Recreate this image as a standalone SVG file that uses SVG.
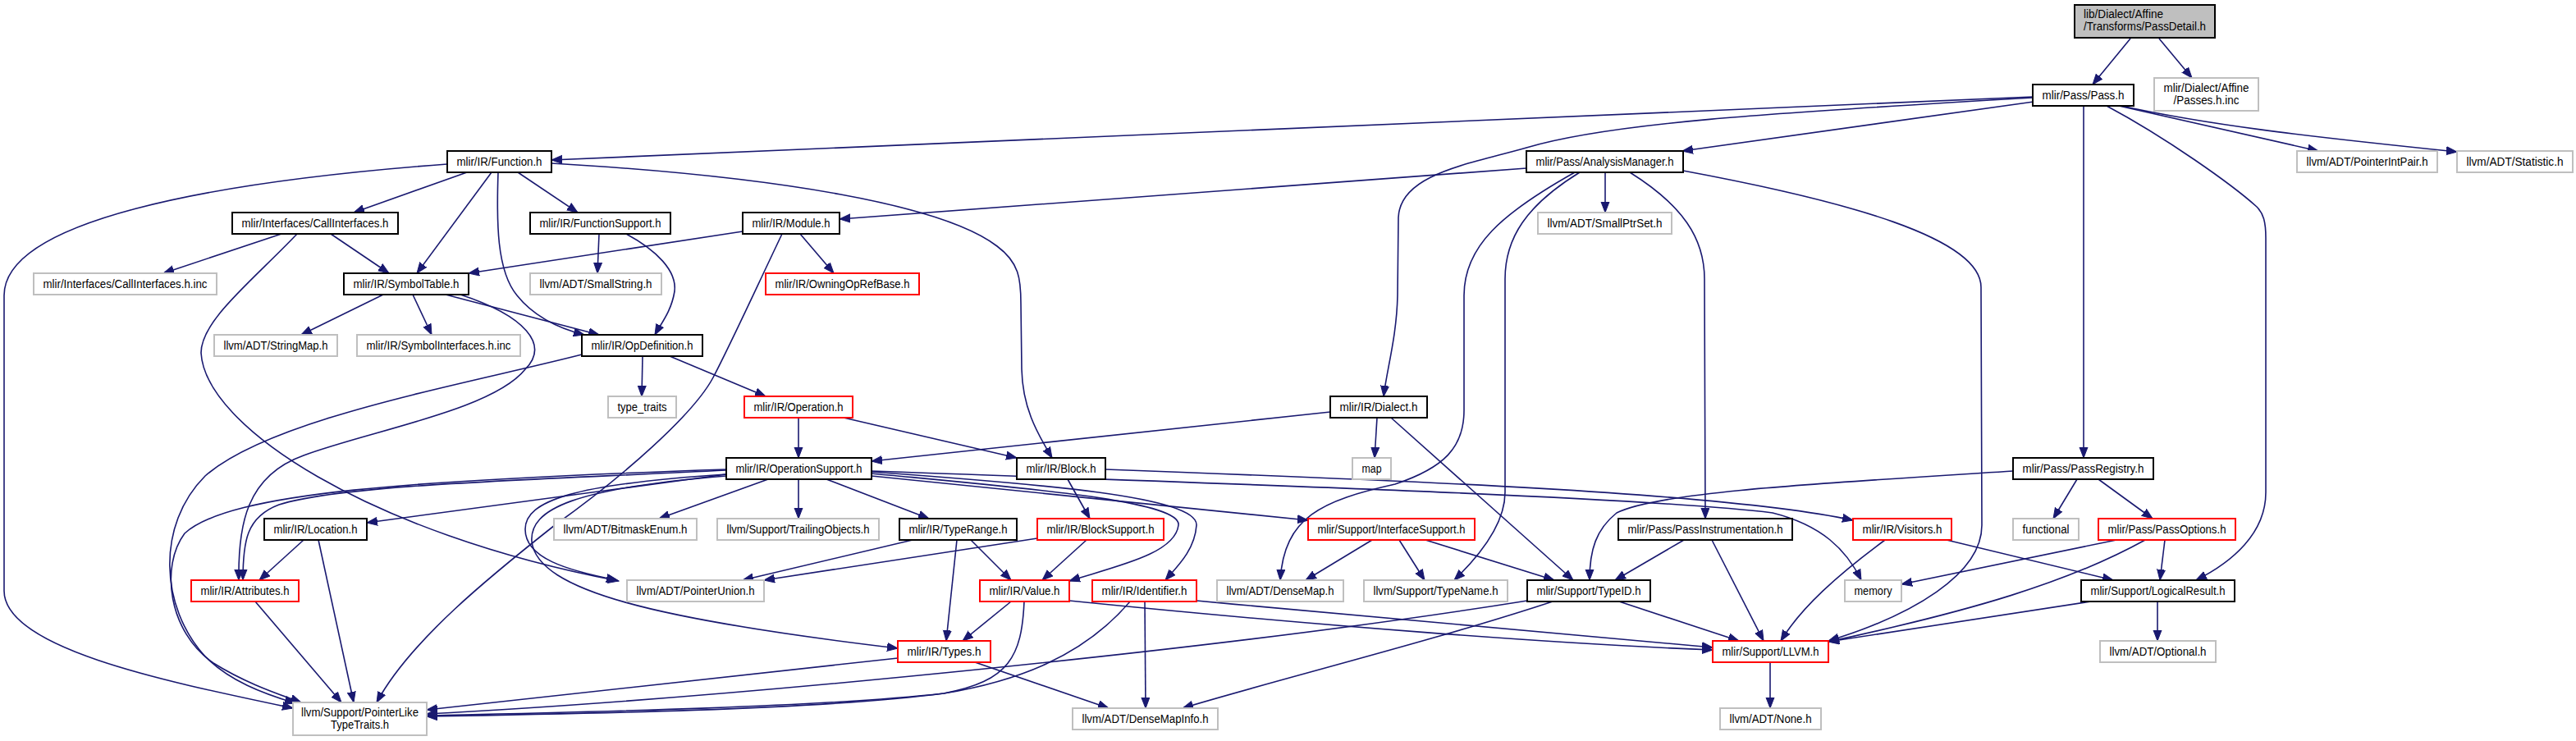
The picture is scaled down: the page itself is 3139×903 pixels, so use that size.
<svg xmlns="http://www.w3.org/2000/svg" width="3139" height="903" viewBox="0 0 3139 903">
<style>
.e{fill:none;stroke:#191970;stroke-width:1.6;marker-end:url(#ah)}
.nb rect{fill:#fff;stroke:#000;stroke-width:2}
.ng rect{fill:#fff;stroke:#bfbfbf;stroke-width:2}
.nr rect{fill:#fff;stroke:#ff0000;stroke-width:2}
.nf rect{fill:#bfbfbf;stroke:#000;stroke-width:2}
text{font-family:"Liberation Sans",Arial,Helvetica,sans-serif;font-size:14px;fill:#000;text-anchor:middle}
text.l{text-anchor:start}
</style>
<defs>
<marker id="ah" markerUnits="userSpaceOnUse" markerWidth="15" markerHeight="12" refX="13" refY="5.5" orient="auto">
<path d="M0,0.5 L13,5.5 L0,10.5 z" fill="#191970" stroke="#191970" stroke-width="1"/>
</marker>
</defs>
<rect width="3139" height="903" fill="#fff"/>
<g id="edges">
<path class="e" d="M2596,47 L2550,103"/>
<path class="e" d="M2631,47 L2671,95"/>
<path class="e" d="M2477,118 L672,195"/>
<path class="e" d="M2478,124 L2050,184"/>
<path class="e" d="M2478,119 C2150,138 1960,150 1860,180 C1790,200 1706,212 1704,265 L1703,360 C1702,410 1690,450 1686,483"/>
<path class="e" d="M2539,129 L2539,558"/>
<path class="e" d="M2567,129 C2640,168 2720,225 2750,252 C2758,260 2761,270 2761,290 L2761,600 C2761,650 2720,685 2676,707"/>
<path class="e" d="M2582,129 L2825,184"/>
<path class="e" d="M2585,129 C2690,152 2800,165 2994,185"/>
<path class="e" d="M545,200 C250,222 5,270 5,360 L5,720 C5,790 200,830 357,863"/>
<path class="e" d="M569,210 L431,259"/>
<path class="e" d="M599,210 L508,333"/>
<path class="e" d="M607,210 C605,270 605,330 630,360 C650,385 680,400 712,408"/>
<path class="e" d="M631,210 L704,259"/>
<path class="e" d="M672,199 C950,215 1150,250 1215,300 C1242,320 1244,340 1244,370 L1245,450 C1246,495 1262,525 1282,558"/>
<path class="e" d="M343,285 L199,333"/>
<path class="e" d="M403,285 L474,333"/>
<path class="e" d="M362,285 C310,340 245,390 245,430 C250,520 450,650 754,708"/>
<path class="e" d="M730,285 L728,333"/>
<path class="e" d="M763,285 C800,305 825,330 822,355 C818,380 805,395 798,408"/>
<path class="e" d="M905,282 L571,333"/>
<path class="e" d="M975,285 L1016,333"/>
<path class="e" d="M953,285 C915,365 890,420 869,460 C845,505 760,580 676,640 C600,700 500,780 459,856"/>
<path class="e" d="M467,359 L367,408"/>
<path class="e" d="M503,359 L526,408"/>
<path class="e" d="M543,359 L730,408"/>
<path class="e" d="M561,359 C640,385 670,420 640,450 C600,500 450,525 370,555 C300,580 290,640 291,707"/>
<path class="e" d="M709,432 C560,470 330,510 250,580 C190,640 195,740 250,800 C280,830 320,845 360,857"/>
<path class="e" d="M783,434 L782,483"/>
<path class="e" d="M816,434 L933,483"/>
<path class="e" d="M973,509 L973,558"/>
<path class="e" d="M1028,509 L1239,558"/>
<path class="e" d="M1621,502 L1062,562"/>
<path class="e" d="M1678,509 L1675,558"/>
<path class="e" d="M1695,509 L1917,707"/>
<path class="e" d="M1301,584 L1328,632"/>
<path class="e" d="M1347,572 C1700,585 2100,600 2258,634"/>
<path class="e" d="M1062,574 C1450,588 2000,605 2160,625 C2220,640 2250,670 2268,707"/>
<path class="e" d="M936,584 L803,632"/>
<path class="e" d="M973,584 L973,632"/>
<path class="e" d="M1007,584 L1132,632"/>
<path class="e" d="M1062,577 C1250,595 1440,610 1436,640 C1432,675 1360,690 1303,708"/>
<path class="e" d="M1062,575 C1270,590 1460,605 1458,640 C1456,670 1435,690 1420,707"/>
<path class="e" d="M1062,580 L1594,634"/>
<path class="e" d="M885,578 L447,637"/>
<path class="e" d="M885,573 C650,585 420,590 340,615 C300,630 296,660 296,707"/>
<path class="e" d="M885,572 C500,585 280,600 225,650 C195,690 205,770 260,808 C300,833 340,846 367,856"/>
<path class="e" d="M885,578 C700,590 640,610 640,645 C640,680 690,695 752,707"/>
<path class="e" d="M885,580 C700,595 645,620 648,660 C655,720 800,755 1094,790"/>
<path class="e" d="M1112,658 L905,707"/>
<path class="e" d="M1264,656 L931,707"/>
<path class="e" d="M1166,658 L1153,781"/>
<path class="e" d="M1183,658 L1232,707"/>
<path class="e" d="M1324,658 L1270,707"/>
<path class="e" d="M1232,733 L1173,781"/>
<path class="e" d="M1248,733 C1245,800 1230,830 1150,845 C1000,865 700,870 520,873"/>
<path class="e" d="M1377,733 C1320,800 1240,830 1150,845 C1000,862 700,868 520,872"/>
<path class="e" d="M1094,802 L520,865"/>
<path class="e" d="M1861,732 C1500,790 900,850 520,870"/>
<path class="e" d="M1188,807 L1351,863"/>
<path class="e" d="M1395,733 L1396,863"/>
<path class="e" d="M1892,733 C1750,780 1550,830 1441,863"/>
<path class="e" d="M1458,732 C1700,755 1950,775 2087,789"/>
<path class="e" d="M1303,732 C1600,762 1900,785 2087,792"/>
<path class="e" d="M1672,658 L1591,707"/>
<path class="e" d="M1705,658 L1736,707"/>
<path class="e" d="M1737,658 L1894,707"/>
<path class="e" d="M1925,210 C1860,250 1834,290 1834,340 L1834,600 C1834,640 1800,680 1772,707"/>
<path class="e" d="M1919,210 C1830,260 1784,300 1784,360 L1784,500 C1784,545 1760,570 1700,590 C1610,610 1565,630 1560,707"/>
<path class="e" d="M1956,210 L1956,259"/>
<path class="e" d="M1986,210 C2050,250 2077,290 2077,340 L2078,632"/>
<path class="e" d="M2051,208 C2250,245 2414,290 2414,350 L2415,640 C2415,700 2330,750 2228,781"/>
<path class="e" d="M1860,205 L1023,267"/>
<path class="e" d="M2052,658 L1968,707"/>
<path class="e" d="M2086,658 L2149,781"/>
<path class="e" d="M2297,658 C2240,700 2195,740 2170,781"/>
<path class="e" d="M2372,658 L2575,707"/>
<path class="e" d="M1973,733 L2119,781"/>
<path class="e" d="M2453,574 C2200,590 2020,600 1970,625 C1945,645 1937,670 1937,707"/>
<path class="e" d="M2531,584 L2502,632"/>
<path class="e" d="M2557,584 L2623,632"/>
<path class="e" d="M2579,658 L2317,712"/>
<path class="e" d="M2614,658 C2520,710 2400,745 2228,782"/>
<path class="e" d="M2638,658 L2632,707"/>
<path class="e" d="M2548,733 L2228,782"/>
<path class="e" d="M2629,733 L2629,781"/>
<path class="e" d="M2157,807 L2157,863"/>
<path class="e" d="M370,658 L316,707"/>
<path class="e" d="M388,658 L431,856"/>
<path class="e" d="M311,733 L416,856"/>
</g>
<g id="n0" class="nf"><rect x="2528" y="6" width="171" height="40"/><text class="l" x="2539" y="22" textLength="97" lengthAdjust="spacingAndGlyphs">lib/Dialect/Affine</text><text class="l" x="2539" y="37" textLength="149" lengthAdjust="spacingAndGlyphs">/Transforms/PassDetail.h</text></g>
<g id="n1" class="nb"><rect x="2477" y="103" width="123" height="26"/><text x="2538.5" y="121" textLength="100" lengthAdjust="spacingAndGlyphs">mlir/Pass/Pass.h</text></g>
<g id="n2" class="ng"><rect x="2625" y="95" width="127" height="40"/><text x="2688.5" y="112" textLength="104" lengthAdjust="spacingAndGlyphs">mlir/Dialect/Affine</text><text x="2688.5" y="127" textLength="80" lengthAdjust="spacingAndGlyphs">/Passes.h.inc</text></g>
<g id="n3" class="nb"><rect x="545" y="184" width="127" height="26"/><text x="608.5" y="202" textLength="104" lengthAdjust="spacingAndGlyphs">mlir/IR/Function.h</text></g>
<g id="n4" class="nb"><rect x="1860" y="184" width="191" height="26"/><text x="1955.5" y="202" textLength="168" lengthAdjust="spacingAndGlyphs">mlir/Pass/AnalysisManager.h</text></g>
<g id="n5" class="ng"><rect x="2799" y="184" width="171" height="26"/><text x="2884.5" y="202" textLength="148" lengthAdjust="spacingAndGlyphs">llvm/ADT/PointerIntPair.h</text></g>
<g id="n6" class="ng"><rect x="2994" y="184" width="141" height="26"/><text x="3064.5" y="202" textLength="118" lengthAdjust="spacingAndGlyphs">llvm/ADT/Statistic.h</text></g>
<g id="n7" class="nb"><rect x="283" y="259" width="202" height="26"/><text x="384" y="277" textLength="179" lengthAdjust="spacingAndGlyphs">mlir/Interfaces/CallInterfaces.h</text></g>
<g id="n8" class="nb"><rect x="646" y="259" width="171" height="26"/><text x="731.5" y="277" textLength="148" lengthAdjust="spacingAndGlyphs">mlir/IR/FunctionSupport.h</text></g>
<g id="n9" class="nb"><rect x="905" y="259" width="118" height="26"/><text x="964" y="277" textLength="95" lengthAdjust="spacingAndGlyphs">mlir/IR/Module.h</text></g>
<g id="n10" class="ng"><rect x="1874" y="259" width="163" height="26"/><text x="1955.5" y="277" textLength="140" lengthAdjust="spacingAndGlyphs">llvm/ADT/SmallPtrSet.h</text></g>
<g id="n11" class="ng"><rect x="41" y="333" width="223" height="26"/><text x="152.5" y="351" textLength="200" lengthAdjust="spacingAndGlyphs">mlir/Interfaces/CallInterfaces.h.inc</text></g>
<g id="n12" class="nb"><rect x="419" y="333" width="152" height="26"/><text x="495" y="351" textLength="129" lengthAdjust="spacingAndGlyphs">mlir/IR/SymbolTable.h</text></g>
<g id="n13" class="ng"><rect x="646" y="333" width="160" height="26"/><text x="726" y="351" textLength="137" lengthAdjust="spacingAndGlyphs">llvm/ADT/SmallString.h</text></g>
<g id="n14" class="nr"><rect x="933" y="333" width="187" height="26"/><text x="1026.5" y="351" textLength="164" lengthAdjust="spacingAndGlyphs">mlir/IR/OwningOpRefBase.h</text></g>
<g id="n15" class="ng"><rect x="261" y="408" width="150" height="26"/><text x="336" y="426" textLength="127" lengthAdjust="spacingAndGlyphs">llvm/ADT/StringMap.h</text></g>
<g id="n16" class="ng"><rect x="435" y="408" width="199" height="26"/><text x="534.5" y="426" textLength="176" lengthAdjust="spacingAndGlyphs">mlir/IR/SymbolInterfaces.h.inc</text></g>
<g id="n17" class="nb"><rect x="709" y="408" width="147" height="26"/><text x="782.5" y="426" textLength="124" lengthAdjust="spacingAndGlyphs">mlir/IR/OpDefinition.h</text></g>
<g id="n18" class="ng"><rect x="741" y="483" width="83" height="26"/><text x="782.5" y="501" textLength="60" lengthAdjust="spacingAndGlyphs">type_traits</text></g>
<g id="n19" class="nr"><rect x="907" y="483" width="132" height="26"/><text x="973" y="501" textLength="109" lengthAdjust="spacingAndGlyphs">mlir/IR/Operation.h</text></g>
<g id="n20" class="nb"><rect x="1621" y="483" width="118" height="26"/><text x="1680" y="501" textLength="95" lengthAdjust="spacingAndGlyphs">mlir/IR/Dialect.h</text></g>
<g id="n21" class="ng"><rect x="1648" y="558" width="47" height="26"/><text x="1671.5" y="576" textLength="24" lengthAdjust="spacingAndGlyphs">map</text></g>
<g id="n22" class="nb"><rect x="885" y="558" width="177" height="26"/><text x="973.5" y="576" textLength="154" lengthAdjust="spacingAndGlyphs">mlir/IR/OperationSupport.h</text></g>
<g id="n23" class="nb"><rect x="1239" y="558" width="108" height="26"/><text x="1293" y="576" textLength="85" lengthAdjust="spacingAndGlyphs">mlir/IR/Block.h</text></g>
<g id="n24" class="nb"><rect x="2453" y="558" width="171" height="26"/><text x="2538.5" y="576" textLength="148" lengthAdjust="spacingAndGlyphs">mlir/Pass/PassRegistry.h</text></g>
<g id="n25" class="nb"><rect x="322" y="632" width="125" height="26"/><text x="384.5" y="650" textLength="102" lengthAdjust="spacingAndGlyphs">mlir/IR/Location.h</text></g>
<g id="n26" class="ng"><rect x="675" y="632" width="174" height="26"/><text x="762" y="650" textLength="151" lengthAdjust="spacingAndGlyphs">llvm/ADT/BitmaskEnum.h</text></g>
<g id="n27" class="ng"><rect x="874" y="632" width="197" height="26"/><text x="972.5" y="650" textLength="174" lengthAdjust="spacingAndGlyphs">llvm/Support/TrailingObjects.h</text></g>
<g id="n28" class="nb"><rect x="1096" y="632" width="143" height="26"/><text x="1167.5" y="650" textLength="120" lengthAdjust="spacingAndGlyphs">mlir/IR/TypeRange.h</text></g>
<g id="n29" class="nr"><rect x="1264" y="632" width="154" height="26"/><text x="1341" y="650" textLength="131" lengthAdjust="spacingAndGlyphs">mlir/IR/BlockSupport.h</text></g>
<g id="n30" class="nr"><rect x="1594" y="632" width="203" height="26"/><text x="1695.5" y="650" textLength="180" lengthAdjust="spacingAndGlyphs">mlir/Support/InterfaceSupport.h</text></g>
<g id="n31" class="nb"><rect x="1972" y="632" width="212" height="26"/><text x="2078" y="650" textLength="189" lengthAdjust="spacingAndGlyphs">mlir/Pass/PassInstrumentation.h</text></g>
<g id="n32" class="nr"><rect x="2258" y="632" width="120" height="26"/><text x="2318" y="650" textLength="97" lengthAdjust="spacingAndGlyphs">mlir/IR/Visitors.h</text></g>
<g id="n33" class="ng"><rect x="2453" y="632" width="80" height="26"/><text x="2493" y="650" textLength="57" lengthAdjust="spacingAndGlyphs">functional</text></g>
<g id="n34" class="nr"><rect x="2557" y="632" width="167" height="26"/><text x="2640.5" y="650" textLength="144" lengthAdjust="spacingAndGlyphs">mlir/Pass/PassOptions.h</text></g>
<g id="n35" class="nr"><rect x="233" y="707" width="131" height="26"/><text x="298.5" y="725" textLength="108" lengthAdjust="spacingAndGlyphs">mlir/IR/Attributes.h</text></g>
<g id="n36" class="ng"><rect x="764" y="707" width="167" height="26"/><text x="847.5" y="725" textLength="144" lengthAdjust="spacingAndGlyphs">llvm/ADT/PointerUnion.h</text></g>
<g id="n37" class="nr"><rect x="1194" y="707" width="109" height="26"/><text x="1248.5" y="725" textLength="86" lengthAdjust="spacingAndGlyphs">mlir/IR/Value.h</text></g>
<g id="n38" class="nr"><rect x="1331" y="707" width="127" height="26"/><text x="1394.5" y="725" textLength="104" lengthAdjust="spacingAndGlyphs">mlir/IR/Identifier.h</text></g>
<g id="n39" class="ng"><rect x="1483" y="707" width="154" height="26"/><text x="1560" y="725" textLength="131" lengthAdjust="spacingAndGlyphs">llvm/ADT/DenseMap.h</text></g>
<g id="n40" class="ng"><rect x="1662" y="707" width="175" height="26"/><text x="1749.5" y="725" textLength="152" lengthAdjust="spacingAndGlyphs">llvm/Support/TypeName.h</text></g>
<g id="n41" class="nb"><rect x="1861" y="707" width="150" height="26"/><text x="1936" y="725" textLength="127" lengthAdjust="spacingAndGlyphs">mlir/Support/TypeID.h</text></g>
<g id="n42" class="ng"><rect x="2248" y="707" width="69" height="26"/><text x="2282.5" y="725" textLength="46" lengthAdjust="spacingAndGlyphs">memory</text></g>
<g id="n43" class="nb"><rect x="2536" y="707" width="187" height="26"/><text x="2629.5" y="725" textLength="164" lengthAdjust="spacingAndGlyphs">mlir/Support/LogicalResult.h</text></g>
<g id="n44" class="nr"><rect x="1094" y="781" width="113" height="26"/><text x="1150.5" y="799" textLength="90" lengthAdjust="spacingAndGlyphs">mlir/IR/Types.h</text></g>
<g id="n45" class="nr"><rect x="2087" y="781" width="141" height="26"/><text x="2157.5" y="799" textLength="118" lengthAdjust="spacingAndGlyphs">mlir/Support/LLVM.h</text></g>
<g id="n46" class="ng"><rect x="2559" y="781" width="141" height="26"/><text x="2629.5" y="799" textLength="118" lengthAdjust="spacingAndGlyphs">llvm/ADT/Optional.h</text></g>
<g id="n47" class="ng"><rect x="357" y="856" width="163" height="40"/><text x="438.5" y="873" textLength="143" lengthAdjust="spacingAndGlyphs">llvm/Support/PointerLike</text><text x="438.5" y="888" textLength="71" lengthAdjust="spacingAndGlyphs">TypeTraits.h</text></g>
<g id="n48" class="ng"><rect x="1307" y="863" width="177" height="26"/><text x="1395.5" y="881" textLength="154" lengthAdjust="spacingAndGlyphs">llvm/ADT/DenseMapInfo.h</text></g>
<g id="n49" class="ng"><rect x="2096" y="863" width="123" height="26"/><text x="2157.5" y="881" textLength="100" lengthAdjust="spacingAndGlyphs">llvm/ADT/None.h</text></g>
</svg>
